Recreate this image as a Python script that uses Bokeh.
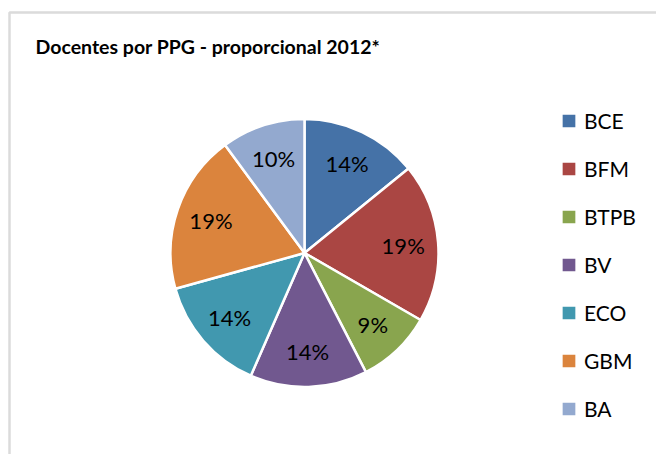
import math
from bokeh.plotting import figure
from bokeh.models import ColumnDataSource, Legend, LegendItem, BoxAnnotation, Range1d
from bokeh.core.properties import value
from bokeh.embed import file_html
from bokeh.resources import INLINE

title_text = "Docentes por PPG - proporcional 2012*"
categories = ["BCE", "BFM", "BTPB", "BV", "ECO", "GBM", "BA"]
shares = [14, 19, 9, 14, 14, 19, 10]
labels = ["14%", "19%", "9%", "14%", "14%", "19%", "10%"]
colors = ["#4572A7", "#AA4643", "#89A54E", "#71588F", "#4198AF", "#DB843D", "#93A9CF"]

W, H = 656, 454
CX, CY, R = 304, 201.5, 134
LABEL_R = 99

total = float(sum(shares))
starts, ends, lx, ly = [], [], [], []
cum = 0.0
for s in shares:
    a0 = math.pi / 2 - 2 * math.pi * cum / total
    cum += s
    a1 = math.pi / 2 - 2 * math.pi * cum / total
    starts.append(a0)
    ends.append(a1)
    mid = (a0 + a1) / 2
    lx.append(CX + LABEL_R * math.cos(mid))
    ly.append(CY + LABEL_R * math.sin(mid))

src = ColumnDataSource(dict(cat=categories, share=shares, lab=labels, color=colors,
                            start=starts, end=ends, lx=lx, ly=ly))

p = figure(width=W, height=H, output_backend="svg", toolbar_location=None,
           x_range=Range1d(0, W), y_range=Range1d(0, H), min_border=0)
p.axis.visible = False
p.grid.visible = False
p.outline_line_color = None
p.background_fill_color = "white"

p.add_layout(BoxAnnotation(left=9, top=H - 12, right=W + 50, bottom=-50,
                           fill_alpha=0, line_color="#878787", line_width=2.5))

wr = p.wedge(x=CX, y=CY, radius=R, start_angle="start", end_angle="end",
             direction="clock", fill_color="color", line_color="white",
             line_width=2.5, source=src)

p.text(x="lx", y="ly", text="lab", source=src, text_align="center",
       text_baseline="middle", text_font=value("Lato"), text_font_size="22px",
       text_color="black")

p.text(x=[35], y=[H - 46], text=[title_text], text_font=value("Lato"),
       text_font_style="bold", text_font_size="19.5px", text_baseline="alphabetic",
       text_color="black")

items = [LegendItem(label=c, renderers=[wr], index=i) for i, c in enumerate(categories)]
legend = Legend(items=items, location=(559, 33), orientation="vertical",
                glyph_width=19, glyph_height=19, label_height=25, spacing=23,
                label_standoff=6, padding=0, margin=0, border_line_color=None,
                background_fill_alpha=0, label_text_font="Lato",
                label_text_font_size="21px", label_text_color="black")
p.add_layout(legend, "center")

open("out.html", "w").write(file_html(p, INLINE))
